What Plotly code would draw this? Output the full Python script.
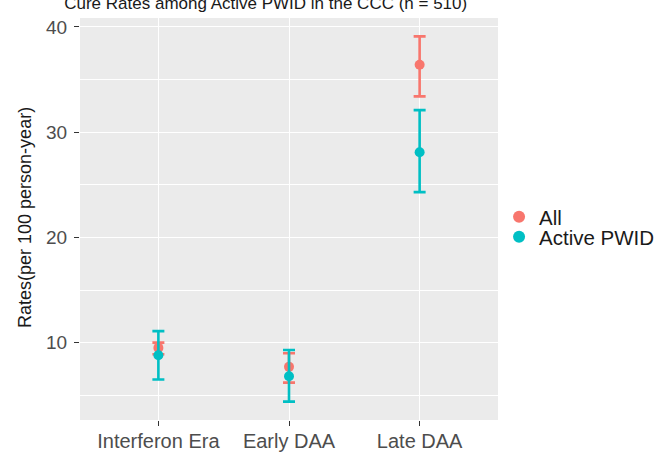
import plotly.graph_objects as go

categories = ["Interferon Era", "Early DAA", "Late DAA"]

all_rate = [9.5, 7.7, 36.4]
all_low = [8.9, 6.2, 33.4]
all_high = [10.0, 9.0, 39.1]

pwid_rate = [8.8, 6.8, 28.1]
pwid_low = [6.5, 4.4, 24.3]
pwid_high = [11.1, 9.3, 32.1]

RED = "#F8766D"
TEAL = "#00BFC4"
FONT = "Liberation Sans, Arial, sans-serif"

def err(rate, low, high):
    return dict(type="data", symmetric=False,
                array=[h - r for h, r in zip(high, rate)],
                arrayminus=[r - l for r, l in zip(rate, low)],
                thickness=2.6, width=6)

fig = go.Figure()
fig.add_trace(go.Scatter(x=categories, y=all_rate, mode="markers", name="All",
                         legend="legend",
                         marker=dict(color=RED, size=10),
                         error_y=dict(color=RED, **err(all_rate, all_low, all_high))))
fig.add_trace(go.Scatter(x=categories, y=pwid_rate, mode="markers", name="Active PWID",
                         legend="legend2",
                         marker=dict(color=TEAL, size=10),
                         error_y=dict(color=TEAL, **err(pwid_rate, pwid_low, pwid_high))))

legend_common = dict(x=0.755, xref="container", xanchor="left", yanchor="middle",
                     yref="container",
                     font=dict(size=20.5, color="#1A1A1A", family=FONT),
                     bgcolor="rgba(0,0,0,0)", itemsizing="constant")

fig.update_layout(
    width=661, height=455,
    paper_bgcolor="white", plot_bgcolor="#EBEBEB",
    margin=dict(l=80, r=163, t=18, b=35),
    font=dict(family=FONT, color="#4D4D4D"),
    title=dict(text="Cure Rates among Active PWID in the CCC (n = 510)",
               x=0.402, xanchor="center", xref="container",
               y=0.9934, yanchor="middle", yref="container",
               font=dict(size=17, color="#1A1A1A", family=FONT)),
    showlegend=True,
    legend=dict(y=1 - 217 / 455, **legend_common),
    legend2=dict(y=1 - 237 / 455, **legend_common),
    xaxis=dict(type="category", range=[-0.6, 2.6], showgrid=True, gridcolor="white",
               gridwidth=1.2, zeroline=False, ticks="outside", ticklen=5,
               tickcolor="#333333", tickwidth=1, automargin=False,
               ticklabelstandoff=-2,
               tickfont=dict(size=20, color="#4D4D4D", family=FONT), showline=False),
    yaxis=dict(range=[2.65, 40.85], tickvals=[10, 20, 30, 40], showgrid=True,
               gridcolor="white", gridwidth=1.2, zeroline=False, ticks="outside",
               ticklen=5, tickcolor="#333333", tickwidth=1, automargin=False,
               ticklabelstandoff=3,
               tickfont=dict(size=19, color="#4D4D4D", family=FONT),
               minor=dict(tickvals=[5, 15, 25, 35], showgrid=True, gridcolor="white",
                          gridwidth=0.6, ticks="")),
    annotations=[dict(text="Rates(per 100 person-year)", textangle=-90,
                      xref="paper", yref="paper", x=-0.1316, y=0.505,
                      xanchor="center", yanchor="middle", showarrow=False,
                      font=dict(size=18, color="#1A1A1A", family=FONT))],
)

fig.write_html("out.html", config={"displayModeBar": False},
               post_script="document.body.style.margin='0px';")
